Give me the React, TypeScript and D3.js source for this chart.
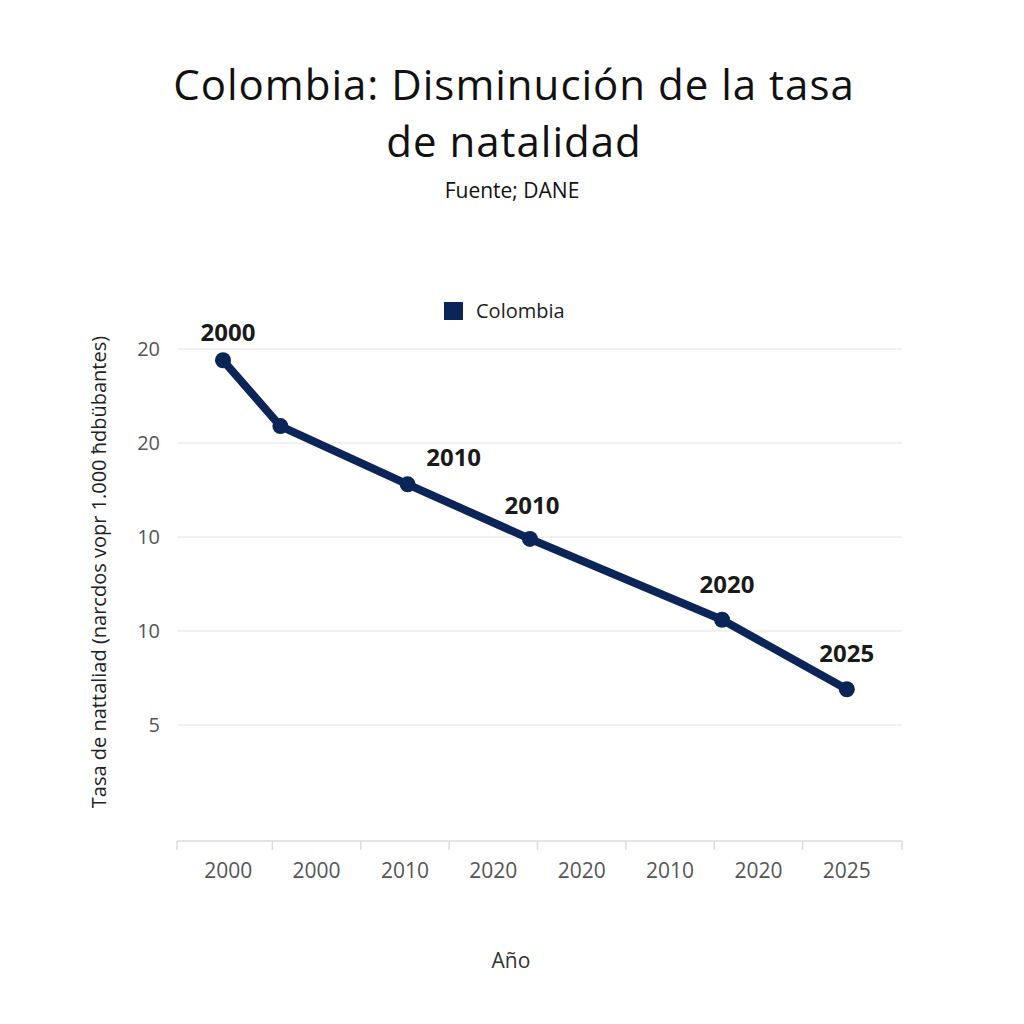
import React from "react";
import * as d3 from "d3";

// birth-rate series (year, rate) and the labels drawn over the points
const years = [2000, 2002.3, 2007.4, 2012.3, 2020, 2025];
const rates = [24.4, 20.9, 17.8, 14.9, 10.6, 6.9];
const pointLabels = ["2000", "", "2010", "2010", "2020", "2025"];

// axis tick labels
const xTickLabels = ["2000", "2000", "2010", "2020", "2020", "2010", "2020", "2025"];
const yTickValues = [25, 20, 15, 10, 5];
const yTickLabels = ["20", "20", "10", "10", "5"];

const title = ["Colombia: Disminución de la tasa", "de natalidad"];
const subtitle = "Fuente; DANE";
const seriesName = "Colombia";
const yTitle = "Tasa de nattaliad (narcdos vopr 1.000 ħdbübantes)";
const xTitle = "Año";

const navy = "#0b2559";
const font = "'Open Sans', 'Noto Sans', sans-serif";

export default function App() {
    const width = 1024;
    const height = 1024;
    const left = 177;
    const right = 902;
    const bottom = 841;

    const band = d3.scaleBand<string>()
        .domain(xTickLabels.map((_, i) => String(i)))
        .range([184, 891]);
    const center = (i: number) => (band(String(i)) as number) + band.bandwidth() / 2;
    const x = d3.scaleLinear([2000, 2025], [left + 46, center(7)]);
    const y = d3.scaleLinear([5, 25], [725, 349]);

    const line = d3.line<number>((_, i) => x(years[i]), (d) => y(d));

    // small nudges so labels sit clear of the line
    const labelDx = [5, 0, 46, 2, 5, 0];
    const labelDy = [-19, 0, -18, -25, -27, -27];

    const tickXs = band.domain().map((d) => band(d) as number).concat(891);
    tickXs[0] = left;
    tickXs[tickXs.length - 1] = right;

    return (
        <svg width={width} height={height} style={{position: "absolute", left: 0, top: 0, background: "#fff"}}
             fontFamily={font}>
            <text x={514} y={100} textAnchor="middle" fontSize={42} letterSpacing={1} fill="#111">{title[0]}</text>
            <text x={514} y={157} textAnchor="middle" fontSize={42} letterSpacing={1} fill="#111">{title[1]}</text>
            <text x={512} y={198} textAnchor="middle" fontSize={21} fill="#111">{subtitle}</text>

            <rect x={444} y={302} width={19} height={18} fill={navy}/>
            <text x={476} y={318} fontSize={20} fill="#222">{seriesName}</text>

            <g>
                {yTickValues.map((v, i) => (
                    <g key={i}>
                        <line x1={left} x2={right} y1={y(v)} y2={y(v)} stroke="#e4e4e4" strokeWidth={1}/>
                        <text x={160} y={y(v)} dy="0.35em" textAnchor="end" fontSize={20} fill="#555">
                            {yTickLabels[i]}
                        </text>
                    </g>
                ))}
            </g>

            <line x1={left} x2={right} y1={bottom} y2={bottom} stroke="#dcdcdc" strokeWidth={1.5}/>
            {tickXs.map((tx, i) => (
                <line key={i} x1={tx} x2={tx} y1={bottom} y2={bottom + 9} stroke="#dcdcdc" strokeWidth={1.5}/>
            ))}
            {xTickLabels.map((t, i) => (
                <text key={i} x={center(i)} y={878} textAnchor="middle" fontSize={21} fill="#555">{t}</text>
            ))}

            <text x={511} y={968} textAnchor="middle" fontSize={21} fill="#333">{xTitle}</text>
            <text transform="translate(106,572) rotate(-90)" textAnchor="middle" fontSize={20} fill="#222">
                {yTitle}
            </text>

            <path d={line(rates) as string} fill="none" stroke={navy} strokeWidth={8}
                  strokeLinejoin="round" strokeLinecap="round"/>
            {rates.map((r, i) => (
                <circle key={i} cx={x(years[i])} cy={y(r)} r={8} fill={navy}/>
            ))}
            {rates.map((r, i) => pointLabels[i] && (
                <text key={i} x={x(years[i]) + labelDx[i]} y={y(r) + labelDy[i]} textAnchor="middle"
                      fontSize={24} fontWeight="bold" fill="#1a1a1a">{pointLabels[i]}</text>
            ))}
        </svg>
    );
}
